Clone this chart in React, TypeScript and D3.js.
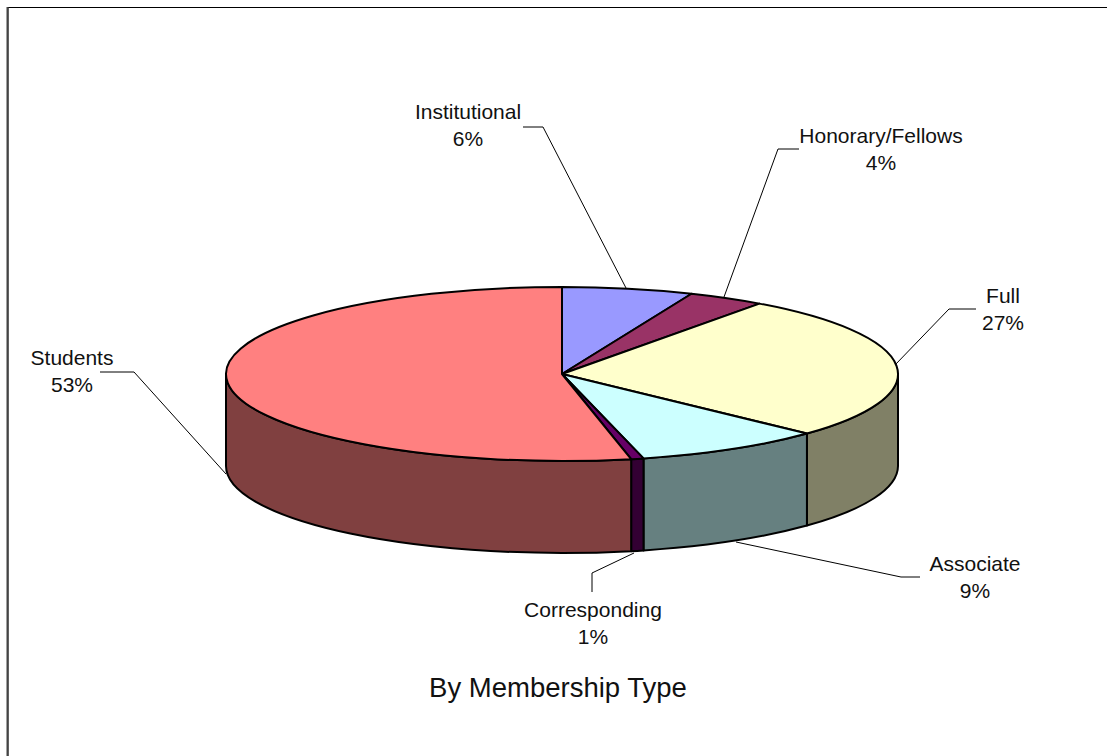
// App.tsx
import React from 'react';
import * as d3 from 'd3';

// values, clockwise from 12 o'clock
const categories = ['Institutional', 'Honorary/Fellows', 'Full', 'Associate', 'Corresponding', 'Students'];
const shares = [6.3, 3.7, 27, 9.1, 0.6, 53.3];
const percentLabels = ['6%', '4%', '27%', '9%', '1%', '53%'];
const topColors = ['#9999ff', '#993366', '#ffffcc', '#ccffff', '#660066', '#ff8080'];
const sideColors = ['#4d4d80', '#4d1a33', '#808066', '#668080', '#330033', '#804040'];

const width = 1107;
const height = 756;
const cx = 562;
const cy = 374;
const rx = 336;
const ry = 87;
const depth = 92;

// label block centre + leader polyline for each category
const labelPos: [number, number][] = [
    [468, 112], [881, 136], [1003, 296], [975, 564], [593, 610], [72, 358],
];
const leaders: [number, number][][] = [
    [[523, 127], [543, 127], [626, 288]],
    [[799, 149], [778, 149], [724, 297]],
    [[976, 309], [949, 309], [895, 365]],
    [[920, 577], [901, 577], [736, 542]],
    [[592, 592], [592, 573], [634, 553]],
    [[100, 372], [134, 372], [226, 474]],
];

const pie = d3.pie<number>().sort(null);
const arcs = pie(shares);
const arcGen = d3.arc<d3.PieArcDatum<number>>().innerRadius(0).outerRadius(rx);

const px = (a: number) => cx + rx * Math.sin(a);
const py = (a: number) => cy - ry * Math.cos(a);

// outer wall of one slice, only the part facing the viewer (PI/2 .. 3PI/2)
const wallPath = (a0: number, a1: number) => {
    const s = Math.max(a0, Math.PI / 2);
    const e = Math.min(a1, (3 * Math.PI) / 2);
    if (e <= s) return null;
    return `M${px(s)},${py(s)}A${rx},${ry} 0 0 1 ${px(e)},${py(e)}`
        + `L${px(e)},${py(e) + depth}A${rx},${ry} 0 0 0 ${px(s)},${py(s) + depth}Z`;
};

const leaderLine = d3.line();

export default function App() {
    return (
        <svg
            width={width}
            height={height}
            viewBox={`0 0 ${width} ${height}`}
            style={{ position: 'absolute', left: 0, top: 0, background: '#fff' }}
            fontFamily="'Liberation Sans', Arial, sans-serif"
        >
            <path d="M1107,7.5H8V756" fill="none" stroke="#000" strokeWidth={1} />
            <path d="M7.5,7V756" fill="none" stroke="#444" strokeWidth={2} />

            {arcs.map((d, i) => {
                const p = wallPath(d.startAngle, d.endAngle);
                return p ? <path key={i} d={p} fill={sideColors[i]} stroke="#000" strokeWidth={2} strokeLinejoin="round" /> : null;
            })}

            <g transform={`translate(${cx},${cy}) scale(1,${ry / rx})`}>
                {arcs.map((d, i) => (
                    <path
                        key={i}
                        d={arcGen(d) as string}
                        fill={topColors[i]}
                        stroke="#000"
                        strokeWidth={2}
                        strokeLinejoin="round"
                        vectorEffect="non-scaling-stroke"
                    />
                ))}
            </g>

            {leaders.map((pts, i) => (
                <path key={i} d={leaderLine(pts) as string} fill="none" stroke="#000" strokeWidth={1} />
            ))}

            {categories.map((c, i) => (
                <text key={c} x={labelPos[i][0]} y={labelPos[i][1]} fontSize={21} textAnchor="middle" fill="#111">
                    <tspan x={labelPos[i][0]} dy={7}>{c}</tspan>
                    <tspan x={labelPos[i][0]} dy={27}>{percentLabels[i]}</tspan>
                </text>
            ))}

            <text x={558} y={697} fontSize={27.5} textAnchor="middle" fill="#111">By Membership Type</text>
        </svg>
    );
}
